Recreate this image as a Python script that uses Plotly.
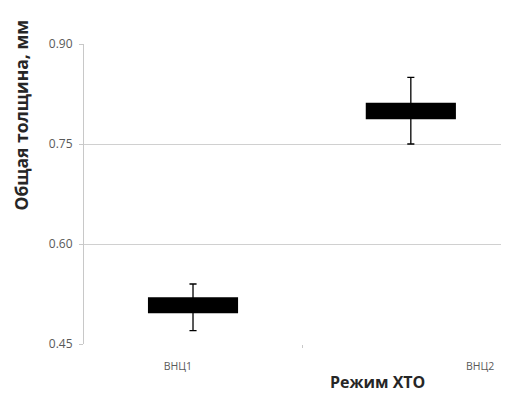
import plotly.graph_objects as go

# ---- data ----
categories = ["ВНЦ1", "ВНЦ2"]
lower_whisker = [0.47, 0.75]
q1_values = [0.497, 0.788]
median_values = [0.508, 0.800]
q3_values = [0.519, 0.811]
upper_whisker = [0.54, 0.85]
y_ticks = [0.45, 0.60, 0.75, 0.90]
y_tick_labels = ["0.45", "0.60", "0.75", "0.90"]

# ---- layout positions (not data) ----
box_x = [0.2565, 0.769]
label_x = [0.221, 0.932]
mid_tick = [0.513]

OFF = 8  # default page body margin
W, H = 509 - OFF, 396 - OFF
ML, MR, MT, MB = 84 - OFF, 0, 44 - OFF, 52
pw, ph = W - ML - MR, H - MT - MB
FONT = "Open Sans, Liberation Sans, sans-serif"

fig = go.Figure()
for i, c in enumerate(categories):
    fig.add_trace(go.Box(
        x=[box_x[i]], q1=[q1_values[i]], median=[median_values[i]], q3=[q3_values[i]],
        lowerfence=[lower_whisker[i]], upperfence=[upper_whisker[i]],
        width=0.209, whiskerwidth=0.08,
        fillcolor="#000000", line=dict(color="#000000", width=1.3),
        boxpoints=False, name=c, showlegend=False, hoverinfo="skip",
    ))

fig.update_layout(
    width=W, height=H,
    margin=dict(l=ML, r=MR, t=MT, b=MB, autoexpand=False),
    paper_bgcolor="white", plot_bgcolor="white",
    showlegend=False,
    xaxis=dict(range=[0, 1], tickvals=label_x, ticktext=categories, ticks="",
               showgrid=False, zeroline=False, showline=False, automargin=False,
               tickfont=dict(family=FONT, size=10.5, color="#595959"),
               ticklabelstandoff=14),
    xaxis2=dict(range=[0, 1], overlaying="x", side="bottom", tickvals=mid_tick,
                ticktext=[""], ticks="outside", ticklen=3, tickcolor="#c8c8c8",
                showgrid=False, zeroline=False, showline=False, automargin=False),
    yaxis=dict(range=[0.45, 0.90], tickvals=y_ticks, ticktext=y_tick_labels,
               showgrid=True, gridcolor="#d0d0d0", gridwidth=1, automargin=False,
               zeroline=False, showline=True, linecolor="#c8c8c8", linewidth=1,
               ticks="outside", ticklen=4, tickcolor="#c8c8c8",
               ticklabelstandoff=4,
               tickfont=dict(family=FONT, size=12, color="#595959")),
)
# dummy trace for overlay axis
fig.add_trace(go.Scatter(x=[None], y=[None], xaxis="x2", showlegend=False))

fig.add_annotation(text="<b>Общая толщина, мм</b>", textangle=-90,
                   xref="paper", yref="paper",
                   x=(21 - 84) / pw, y=(344 - 115.5) / ph,
                   xanchor="center", yanchor="middle", showarrow=False,
                   font=dict(family=FONT, size=17.5, color="#262626"))
fig.add_annotation(text="<b>Режим ХТО</b>",
                   xref="paper", yref="paper",
                   x=(377 - 84) / pw, y=(344 - 382) / ph,
                   xanchor="center", yanchor="middle", showarrow=False,
                   font=dict(family=FONT, size=16, color="#262626"))

fig.write_html("out.html")
